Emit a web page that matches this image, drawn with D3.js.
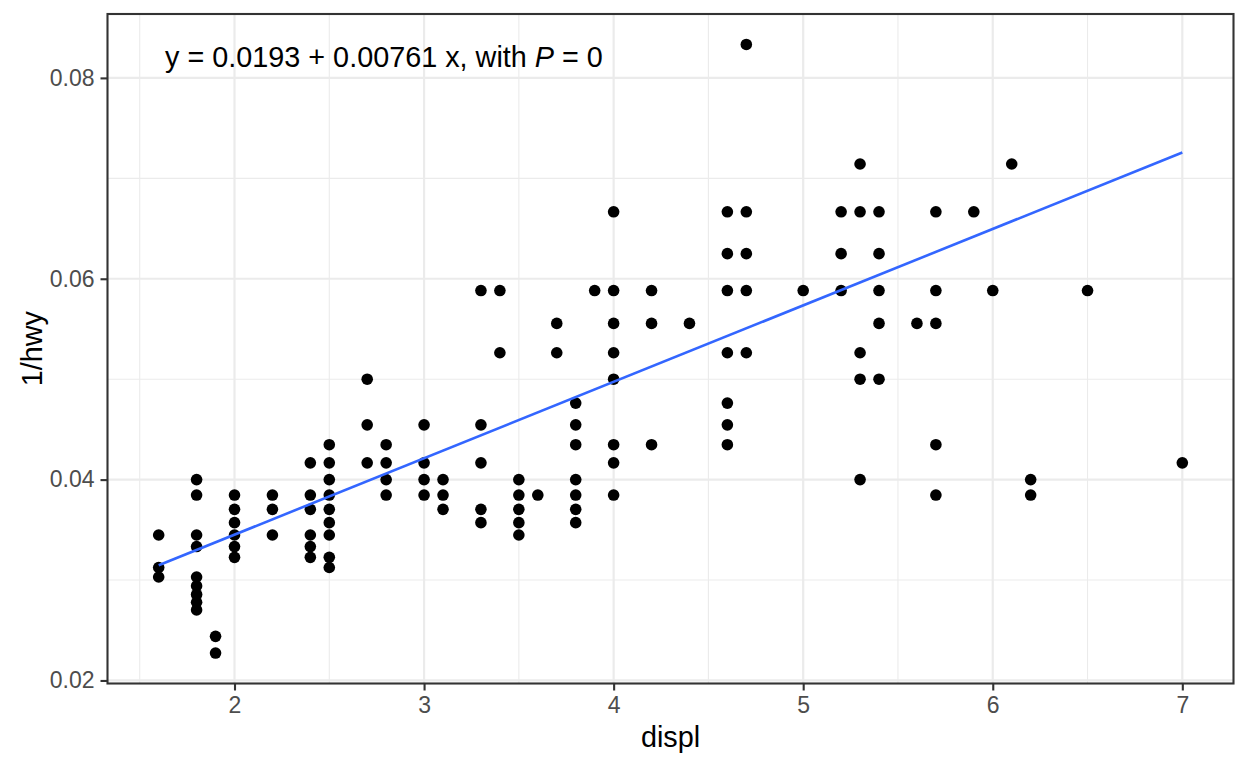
<!DOCTYPE html>
<html>
<head>
<meta charset="utf-8">
<script src="https://cdn.jsdelivr.net/npm/d3@7/dist/d3.min.js"></script>
<style>
  html, body { margin: 0; padding: 0; background: #ffffff; }
  svg { display: block; font-family: "Liberation Sans", Arial, sans-serif; }
</style>
</head>
<body>
<svg id="chart" width="1248" height="768"></svg>
<script>
// ---- data (mpg: displ vs hwy; plotted as 1/hwy) ----
const displGroups = [1.6, 1.8, 1.9, 2.0, 2.2, 2.4, 2.5, 2.7, 2.8, 3.0, 3.1, 3.3, 3.4, 3.5, 3.6, 3.7, 3.8, 3.9,
                     4.0, 4.2, 4.4, 4.6, 4.7, 5.0, 5.2, 5.3, 5.4, 5.6, 5.7, 5.9, 6.0, 6.1, 6.2, 6.5, 7.0];
const hwyGroups = [
  [29, 32, 33],
  [25, 26, 29, 30, 33, 34, 35, 36, 37],
  [41, 44],
  [26, 27, 28, 29, 30, 31],
  [26, 27, 29],
  [24, 26, 27, 29, 30, 31],
  [23, 24, 25, 26, 27, 28, 29, 31, 32],
  [20, 22, 24],
  [23, 24, 25, 26],
  [22, 24, 25, 26],
  [25, 26, 27],
  [17, 22, 24, 27, 28],
  [17, 19],
  [25, 26, 27, 28, 29],
  [26],
  [18, 19],
  [21, 22, 23, 25, 26, 27, 28],
  [17],
  [15, 17, 18, 19, 20, 23, 24, 26],
  [17, 18, 23],
  [18],
  [15, 16, 17, 19, 21, 22, 23],
  [12, 15, 16, 17, 19],
  [17],
  [15, 16, 17],
  [14, 15, 19, 20, 25],
  [15, 16, 17, 18, 20],
  [18],
  [15, 17, 18, 23, 26],
  [15],
  [17],
  [14],
  [25, 26],
  [17],
  [24]
];
const fitCoef = [0.0193, 0.00761];      // intercept, slope
const fitRange = [1.6, 7.0];
const xTicks = [2, 3, 4, 5, 6, 7];
const xMinor = [1.5, 2.5, 3.5, 4.5, 5.5, 6.5];
const yTicks = [0.02, 0.04, 0.06, 0.08];
const yMinor = [0.03, 0.05, 0.07];
const yTickLabels = ["0.02", "0.04", "0.06", "0.08"];
const annotation = { pre: "y = 0.0193 + 0.00761 x, with ", ital: "P", post: " = 0" };

const points = [];
displGroups.forEach((d, i) => hwyGroups[i].forEach(h => points.push({ x: d, y: 1 / h })));

// ---- layout ----
const panel = { left: 107.5, right: 1233.5, top: 14, bottom: 683.5 };
const xExt = d3.extent(points, p => p.x);
const yExt = d3.extent(points, p => p.y);
const xPad = (xExt[1] - xExt[0]) * 0.05, yPad = (yExt[1] - yExt[0]) * 0.05;
const x = d3.scaleLinear().domain([xExt[0] - xPad, xExt[1] + xPad]).range([panel.left, panel.right]);
const y = d3.scaleLinear().domain([yExt[0] - yPad, yExt[1] + yPad]).range([panel.bottom, panel.top]);

const svg = d3.select("#chart");
const W = panel.right - panel.left, H = panel.bottom - panel.top;

svg.append("rect").attr("x", panel.left).attr("y", panel.top).attr("width", W).attr("height", H).attr("fill", "#fff");

const grid = svg.append("g");
grid.selectAll(".xminor").data(xMinor.filter(v => x(v) > panel.left && x(v) < panel.right)).enter().append("line")
  .attr("x1", d => x(d)).attr("x2", d => x(d)).attr("y1", panel.top).attr("y2", panel.bottom)
  .attr("stroke", "#EBEBEB").attr("stroke-width", 1.1);
grid.selectAll(".yminor").data(yMinor).enter().append("line")
  .attr("y1", d => y(d)).attr("y2", d => y(d)).attr("x1", panel.left).attr("x2", panel.right)
  .attr("stroke", "#EBEBEB").attr("stroke-width", 1.1);
grid.selectAll(".xmajor").data(xTicks).enter().append("line")
  .attr("x1", d => x(d)).attr("x2", d => x(d)).attr("y1", panel.top).attr("y2", panel.bottom)
  .attr("stroke", "#EBEBEB").attr("stroke-width", 2.2);
grid.selectAll(".ymajor").data(yTicks).enter().append("line")
  .attr("y1", d => y(d)).attr("y2", d => y(d)).attr("x1", panel.left).attr("x2", panel.right)
  .attr("stroke", "#EBEBEB").attr("stroke-width", 2.2);

// points
svg.append("g").selectAll("circle").data(points).enter().append("circle")
  .attr("cx", d => x(d.x)).attr("cy", d => y(d.y)).attr("r", 5.8).attr("fill", "#000");

// fit line
const line = d3.line().x(d => x(d)).y(d => y(fitCoef[0] + fitCoef[1] * d));
svg.append("path").datum(fitRange).attr("d", line)
  .attr("fill", "none").attr("stroke", "#3366FF").attr("stroke-width", 2.6);

// panel border
svg.append("rect").attr("x", panel.left).attr("y", panel.top).attr("width", W).attr("height", H)
  .attr("fill", "none").attr("stroke", "#333333").attr("stroke-width", 2.1);

// axes
const xAxis = d3.axisBottom(x).tickValues(xTicks).tickFormat(d3.format("d")).tickSizeInner(7).tickSizeOuter(0).tickPadding(6);
const gx = svg.append("g").attr("transform", `translate(0,${panel.bottom})`).call(xAxis);
gx.select(".domain").remove();
gx.selectAll(".tick line").attr("stroke", "#333333").attr("stroke-width", 2.1);
gx.selectAll(".tick text").attr("fill", "#4D4D4D").attr("font-size", 23).attr("dy", "0.71em")
  .attr("font-family", "Liberation Sans, Arial, sans-serif");

const yAxis = d3.axisLeft(y).tickValues(yTicks).tickFormat((d, i) => yTickLabels[i]).tickSizeInner(7).tickSizeOuter(0).tickPadding(6);
const gy = svg.append("g").attr("transform", `translate(${panel.left},0)`).call(yAxis);
gy.select(".domain").remove();
gy.selectAll(".tick line").attr("stroke", "#333333").attr("stroke-width", 2.1);
gy.selectAll(".tick text").attr("fill", "#4D4D4D").attr("font-size", 23)
  .attr("font-family", "Liberation Sans, Arial, sans-serif");

// axis titles
svg.append("text").attr("x", (panel.left + panel.right) / 2).attr("y", 747)
  .attr("text-anchor", "middle").attr("font-size", 28.8).attr("fill", "#000").text("displ");
svg.append("text").attr("transform", `translate(42,${(panel.top + panel.bottom) / 2}) rotate(-90)`)
  .attr("text-anchor", "middle").attr("font-size", 28.8).attr("fill", "#000").text("1/hwy");

// annotation
const ann = svg.append("text").attr("x", 165).attr("y", 67).attr("font-size", 28.8).attr("fill", "#000");
ann.append("tspan").text(annotation.pre);
ann.append("tspan").attr("font-style", "italic").text(annotation.ital);
ann.append("tspan").text(annotation.post);
</script>
</body>
</html>
